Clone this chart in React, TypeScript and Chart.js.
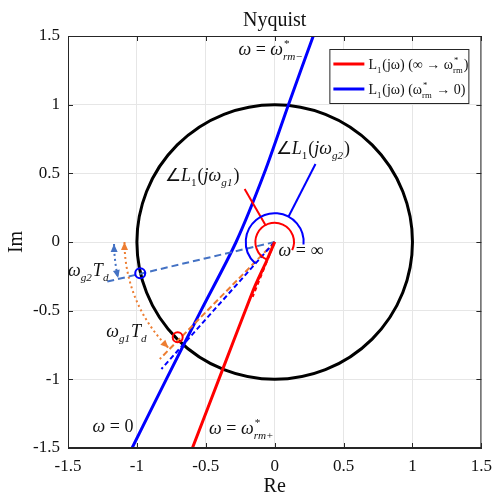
import React, { useEffect, useRef } from "react";
import { Chart, registerables } from "chart.js";

Chart.register(...registerables);

const SERIF = '"Liberation Serif", "Times New Roman", serif';

// axis ticks
const AXIS_TICKS = [-1.5, -1, -0.5, 0, 0.5, 1, 1.5];
const AXIS_TICK_LABELS = ["-1.5", "-1", "-0.5", "0", "0.5", "1", "1.5"];

// L1(jω), ω: ∞ → ω*rm+  (red branch)
const RED_RE = [0, -0.06, -0.147, -0.225, -0.372, -0.597];
const RED_IM = [0, -0.14, -0.33, -0.53, -0.913, -1.5];
// red dashed helper near the origin
const RED_DASH_RE = [0, -0.16];
const RED_DASH_IM = [0, -0.4];

// L1(jω), ω: ω*rm- → 0  (blue branch)
const BLUE_RE = [0.28, 0.1, -0.076, -0.28, -0.535, -0.787, -1.035];
const BLUE_IM = [1.5, 1.0, 0.5, 0, -0.5, -1.0, -1.5];

// rays from the origin
const RAY_G2_RE = [0, -1.24];
const RAY_G2_IM = [0, -0.294];
const RAY_G1_RE = [0, -0.834];
const RAY_G1_IM = [0, -0.852];
const RAY_DB_RE = [0, -0.822];
const RAY_DB_IM = [0, -0.925];

// crossing points with the unit circle
const MARK_G2 = [-0.976, -0.228];
const MARK_G1 = [-0.704, -0.694];

// leader lines for the angle labels
const PTR_G1_RE = [-0.064, -0.218];
const PTR_G1_IM = [0.119, 0.386];
const PTR_G2_RE = [0.1, 0.296];
const PTR_G2_IM = [0.184, 0.568];

// unit circle and angle arcs (radius, start deg, end deg)
const UNIT_RADIUS = 1;
const ARC_G1 = [0.14, -25, 245];
const ARC_G2 = [0.21, -5, 228];
const DOT_ARC_G1 = [1.09, 180, 225];
const DOT_ARC_G2 = [1.166, 180.7, 193];

const pts = (xs: number[], ys: number[]) => xs.map((x, i) => ({ x, y: ys[i] }));

type Seg = { t?: string; it?: boolean; sub?: string; sup?: string; subIt?: boolean };

function drawRich(ctx: CanvasRenderingContext2D, x: number, y: number, segs: Seg[], size: number, color: string) {
  ctx.save();
  ctx.fillStyle = color;
  ctx.textAlign = "left";
  ctx.textBaseline = "alphabetic";
  let cx = x;
  for (const s of segs) {
    if (s.t) {
      ctx.font = `${s.it ? "italic " : ""}${size}px ${SERIF}`;
      ctx.fillText(s.t, cx, y);
      cx += ctx.measureText(s.t).width;
    }
    if (s.sub || s.sup) {
      const small = size * 0.62;
      let w = 0;
      if (s.sub) {
        ctx.font = `${s.subIt ? "italic " : ""}${small}px ${SERIF}`;
        ctx.fillText(s.sub, cx, y + size * 0.28);
        w = Math.max(w, ctx.measureText(s.sub).width);
      }
      if (s.sup) {
        ctx.font = `${small}px ${SERIF}`;
        ctx.fillText(s.sup, cx + 1, y - size * 0.42);
        w = Math.max(w, ctx.measureText(s.sup).width + 1);
      }
      cx += w + 1;
    }
  }
  ctx.restore();
}

function arrowHead(ctx: CanvasRenderingContext2D, x: number, y: number, dx: number, dy: number, color: string) {
  const n = Math.hypot(dx, dy) || 1;
  const ux = dx / n, uy = dy / n;
  const L = 8, H = 3.5;
  ctx.save();
  ctx.fillStyle = color;
  ctx.beginPath();
  ctx.moveTo(x, y);
  ctx.lineTo(x - ux * L - uy * H, y - uy * L + ux * H);
  ctx.lineTo(x - ux * L + uy * H, y - uy * L - ux * H);
  ctx.closePath();
  ctx.fill();
  ctx.restore();
}

const decor = {
  id: "nyquistDecor",
  beforeDatasetsDraw(chart: any) {
    const { ctx, chartArea: a, scales } = chart;
    const cx = scales.x.getPixelForValue(0), cy = scales.y.getPixelForValue(0);
    const sx = scales.x.getPixelForValue(1) - cx, sy = cy - scales.y.getPixelForValue(1);
    ctx.save();
    ctx.beginPath();
    ctx.rect(a.left, a.top, a.right - a.left, a.bottom - a.top);
    ctx.clip();
    ctx.beginPath();
    ctx.ellipse(cx, cy, UNIT_RADIUS * sx, UNIT_RADIUS * sy, 0, 0, Math.PI * 2);
    ctx.strokeStyle = "#000";
    ctx.lineWidth = 3;
    ctx.stroke();
    ctx.restore();
  },
  afterDatasetsDraw(chart: any) {
    const { ctx, chartArea: a, scales } = chart;
    const cx = scales.x.getPixelForValue(0), cy = scales.y.getPixelForValue(0);
    const sx = scales.x.getPixelForValue(1) - cx, sy = cy - scales.y.getPixelForValue(1);
    const D = Math.PI / 180;
    ctx.save();
    ctx.beginPath();
    ctx.rect(a.left, a.top, a.right - a.left, a.bottom - a.top);
    ctx.clip();
    const arc = (spec: number[], color: string, width: number, dash: number[], arrows: boolean) => {
      const [r, from, to] = spec;
      ctx.save();
      ctx.beginPath();
      ctx.ellipse(cx, cy, r * sx, r * sy, 0, -from * D, -to * D, true);
      ctx.strokeStyle = color;
      ctx.lineWidth = width;
      ctx.setLineDash(dash);
      ctx.stroke();
      ctx.restore();
      if (arrows) {
        const P = (t: number) => [cx + r * sx * Math.cos(t * D), cy - r * sy * Math.sin(t * D)];
        const T = (t: number) => [-r * sx * Math.sin(t * D), -r * sy * Math.cos(t * D)];
        const [x0, y0] = P(from), [tx0, ty0] = T(from);
        arrowHead(ctx, x0, y0, -tx0, -ty0, color);
        const [x1, y1] = P(to), [tx1, ty1] = T(to);
        arrowHead(ctx, x1, y1, tx1, ty1, color);
      }
    };
    arc(ARC_G1, "#FF0000", 2, [], false);
    arc(ARC_G2, "#0000FF", 2, [], false);
    arc(DOT_ARC_G1, "#ED7D31", 2, [2, 3], true);
    arc(DOT_ARC_G2, "#4472C4", 2, [2, 3], true);
    ctx.restore();
  },
  afterDraw(chart: any) {
    const { ctx, chartArea: a, scales } = chart;
    const X = (v: number) => scales.x.getPixelForValue(v);
    const Y = (v: number) => scales.y.getPixelForValue(v);
    ctx.save();
    // frame
    ctx.strokeStyle = "#262626";
    ctx.lineWidth = 1;
    ctx.strokeRect(a.left + 0.5, a.top + 0.5, a.right - a.left - 1, a.bottom - a.top - 1);
    // inward ticks
    ctx.beginPath();
    for (const t of AXIS_TICKS) {
      const px = Math.round(X(t)) + 0.5, py = Math.round(Y(t)) + 0.5;
      ctx.moveTo(px, a.bottom); ctx.lineTo(px, a.bottom - 5);
      ctx.moveTo(px, a.top); ctx.lineTo(px, a.top + 5);
      ctx.moveTo(a.left, py); ctx.lineTo(a.left + 5, py);
      ctx.moveTo(a.right, py); ctx.lineTo(a.right - 5, py);
    }
    ctx.stroke();
    // title
    ctx.fillStyle = "#111";
    ctx.font = `20px ${SERIF}`;
    ctx.textAlign = "center";
    ctx.textBaseline = "alphabetic";
    ctx.fillText("Nyquist", (a.left + a.right) / 2, 26);
    ctx.restore();

    const C = "#111";
    const S = 18;
    drawRich(ctx, X(-0.263), Y(1.362), [{ t: "ω", it: true }, { t: " = " }, { t: "ω", it: true, sup: "*", sub: "rm−", subIt: true }], S, C);
    drawRich(ctx, X(0.007), Y(0.64), [{ t: "∠" }, { t: "L", it: true, sub: "1" }, { t: "(" }, { t: "jω", it: true, sub: "g2", subIt: true }, { t: ")" }], S, C);
    drawRich(ctx, X(-0.796), Y(0.444), [{ t: "∠" }, { t: "L", it: true, sub: "1" }, { t: "(" }, { t: "jω", it: true, sub: "g1", subIt: true }, { t: ")" }], S, C);
    drawRich(ctx, X(0.028), Y(-0.102), [{ t: "ω", it: true }, { t: " = ∞" }], S, C);
    drawRich(ctx, X(-0.476), Y(-1.398), [{ t: "ω", it: true }, { t: " = " }, { t: "ω", it: true, sup: "*", sub: "rm+", subIt: true }], S, C);
    drawRich(ctx, X(-1.322), Y(-1.383), [{ t: "ω", it: true }, { t: " = 0" }], S, C);
    drawRich(ctx, X(-1.223), Y(-0.692), [{ t: "ω", it: true, sub: "g1", subIt: true }, { t: "T", it: true, sub: "d", subIt: true }], S, C);
    drawRich(ctx, X(-1.5), Y(-0.248), [{ t: "ω", it: true, sub: "g2", subIt: true }, { t: "T", it: true, sub: "d", subIt: true }], S, C);

    // legend
    const bx = a.right - 152, by = a.top + 13, bw = 139, bh = 54;
    ctx.save();
    ctx.fillStyle = "#fff";
    ctx.fillRect(bx, by, bw, bh);
    ctx.strokeStyle = "#262626";
    ctx.lineWidth = 1;
    ctx.strokeRect(bx + 0.5, by + 0.5, bw, bh);
    ctx.lineWidth = 3;
    ctx.strokeStyle = "#FF0000";
    ctx.beginPath(); ctx.moveTo(bx + 4, by + 15); ctx.lineTo(bx + 35, by + 15); ctx.stroke();
    ctx.strokeStyle = "#0000FF";
    ctx.beginPath(); ctx.moveTo(bx + 4, by + 40); ctx.lineTo(bx + 35, by + 40); ctx.stroke();
    ctx.restore();
    const LS = 14;
    drawRich(ctx, bx + 39, by + 20, [{ t: "L", sub: "1" }, { t: "(jω) (∞ → ω", sup: "*", sub: "rm" }, { t: ")" }], LS, C);
    drawRich(ctx, bx + 39, by + 45, [{ t: "L", sub: "1" }, { t: "(jω) (ω", sup: "*", sub: "rm" }, { t: " → 0)" }], LS, C);
  },
};

const tickLabel = (v: any) => {
  const n = Number(v);
  const i = AXIS_TICKS.findIndex((t) => Math.abs(t - n) < 1e-6);
  return i >= 0 ? AXIS_TICK_LABELS[i] : "";
};

export default function App() {
  const ref = useRef<HTMLCanvasElement | null>(null);
  useEffect(() => {
    if (!ref.current) return;
    const line = (data: any[], color: string, width: number, dash: number[] = [], tension = 0) => ({
      data,
      showLine: true,
      borderColor: color,
      backgroundColor: color,
      borderWidth: width,
      borderDash: dash,
      pointRadius: 0,
      fill: false,
      tension,
    });
    const chart = new Chart(ref.current, {
      type: "scatter",
      data: {
        datasets: [
          {
            data: [{ x: MARK_G2[0], y: MARK_G2[1] }],
            pointRadius: 5,
            pointBorderWidth: 2,
            borderColor: "#0000FF",
            backgroundColor: "rgba(0,0,0,0)",
          },
          {
            data: [{ x: MARK_G1[0], y: MARK_G1[1] }],
            pointRadius: 5,
            pointBorderWidth: 2,
            borderColor: "#FF0000",
            backgroundColor: "rgba(0,0,0,0)",
          },
          line(pts(PTR_G1_RE, PTR_G1_IM), "#FF0000", 2),
          line(pts(PTR_G2_RE, PTR_G2_IM), "#0000FF", 2),
          line(pts(RED_RE, RED_IM), "#FF0000", 3, [], 0.2),
          line(pts(RED_DASH_RE, RED_DASH_IM), "#FF0000", 2, [4, 3]),
          line(pts(RAY_DB_RE, RAY_DB_IM), "#0000FF", 2, [5, 3]),
          line(pts(RAY_G1_RE, RAY_G1_IM), "#ED7D31", 2, [6, 3]),
          line(pts(RAY_G2_RE, RAY_G2_IM), "#4472C4", 2, [7, 4]),
          line(pts(BLUE_RE, BLUE_IM), "#0000FF", 3, [], 0.3),
        ] as any,
      },
      options: {
        responsive: false,
        animation: false,
        events: [],
        layout: { padding: { top: 36, right: 10, bottom: 0, left: 0 } },
        plugins: { legend: { display: false }, tooltip: { enabled: false }, title: { display: false } },
        scales: {
          x: {
            type: "linear",
            min: -1.5,
            max: 1.5,
            afterFit: (s: any) => { s.height = 49; },
            ticks: { stepSize: 0.5, callback: tickLabel, font: { family: SERIF, size: 17 }, color: "#111", padding: 8, maxRotation: 0, autoSkip: false },
            grid: { color: "#e6e6e6", drawTicks: false },
            border: { color: "#262626" },
            title: { display: true, text: "Re", font: { family: SERIF, size: 20, lineHeight: 1 }, color: "#111", padding: { top: 0, bottom: 0 } },
          },
          y: {
            type: "linear",
            min: -1.5,
            max: 1.5,
            afterFit: (s: any) => { s.width = 68; },
            ticks: { stepSize: 0.5, callback: tickLabel, font: { family: SERIF, size: 17 }, color: "#111", padding: 8, autoSkip: false },
            grid: { color: "#e6e6e6", drawTicks: false },
            border: { color: "#262626" },
            title: { display: true, text: "Im", font: { family: SERIF, size: 20, lineHeight: 1 }, color: "#111", padding: { top: 7, bottom: 0 } },
          },
        },
      },
      plugins: [decor],
    } as any);
    return () => chart.destroy();
  }, []);
  return (
    <div style={{ position: "absolute", left: 0, top: 0, width: 500, height: 497, background: "#fff" }}>
      <canvas ref={ref} width={500} height={497} />
    </div>
  );
}
